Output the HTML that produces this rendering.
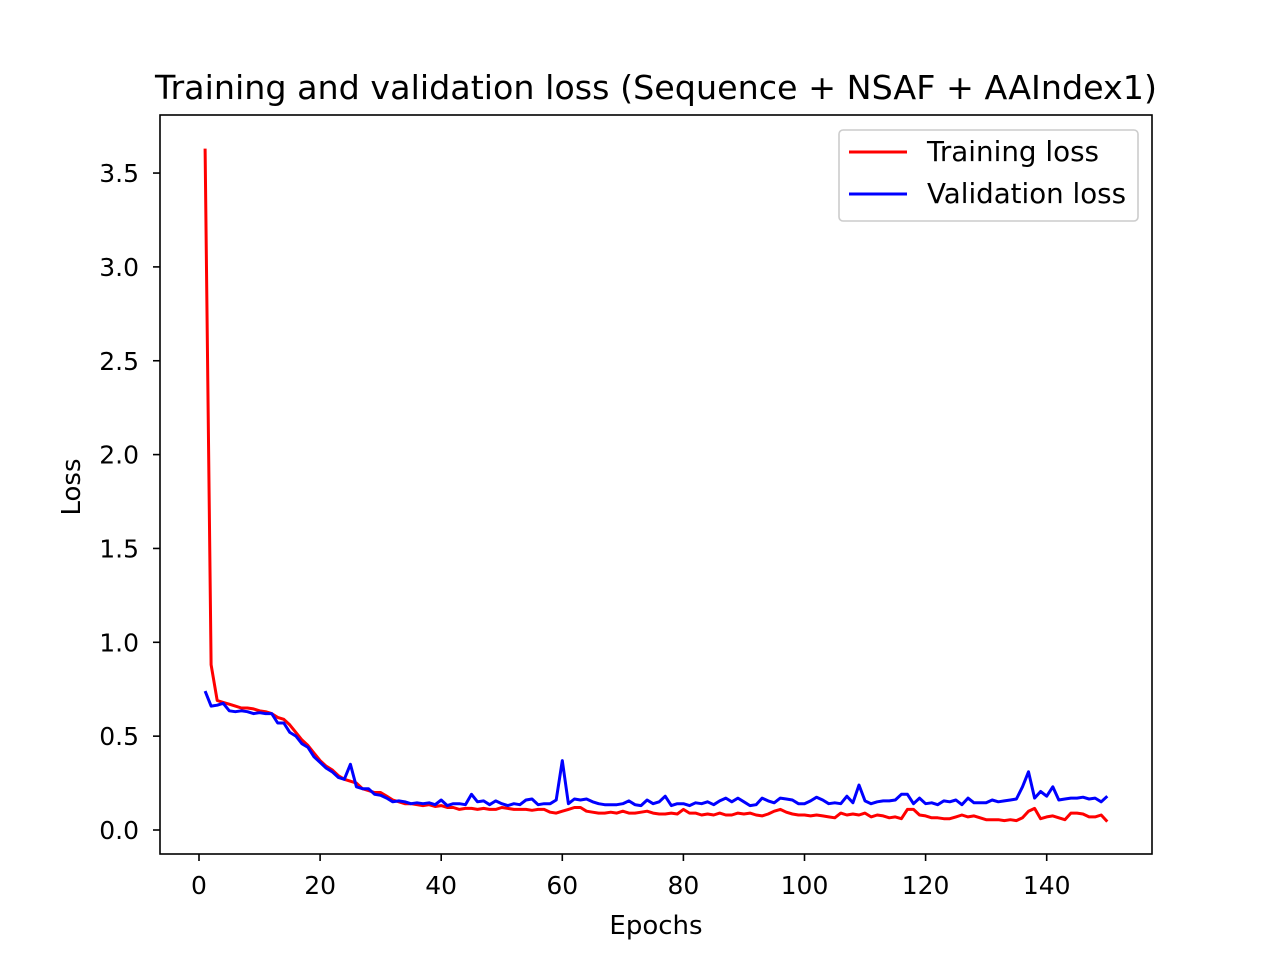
<!DOCTYPE html>
<html><head><meta charset="utf-8"><style>
body{margin:0;background:#fff;}
svg text{font-family:"DejaVu Sans","Liberation Sans",sans-serif;fill:#000;}
</style></head><body>
<svg id="chart" width="1280" height="960" xmlns="http://www.w3.org/2000/svg">
<rect width="1280" height="960" fill="#fff"/>
<text x="656" y="99" font-size="33" text-anchor="middle" textLength="1002" lengthAdjust="spacingAndGlyphs">Training and validation loss (Sequence + NSAF + AAIndex1)</text>
<g id="ticks"></g>
<g id="lines"></g>
<rect x="160" y="115" width="992" height="739" fill="none" stroke="#000" stroke-width="1.6"/>
<text x="656" y="934" font-size="26" text-anchor="middle">Epochs</text>
<text transform="translate(80,487) rotate(-90)" font-size="26" text-anchor="middle">Loss</text>
<g>
<rect x="839" y="130" width="299" height="91" rx="4" fill="#fff" stroke="#ccc" stroke-width="1.6"/>
<line x1="849" y1="152" x2="907" y2="152" stroke="#f00" stroke-width="3"/>
<text x="927" y="161" font-size="27.5" textLength="172" lengthAdjust="spacingAndGlyphs">Training loss</text>
<line x1="849" y1="194" x2="907" y2="194" stroke="#00f" stroke-width="3"/>
<text x="927" y="203" font-size="27.5" textLength="199" lengthAdjust="spacingAndGlyphs">Validation loss</text>
</g>
</svg>
<script>
const xTicks=[0,20,40,60,80,100,120,140];
const yTicks=[0,0.5,1.0,1.5,2.0,2.5,3.0,3.5];
const yTickLabels=["0.0","0.5","1.0","1.5","2.0","2.5","3.0","3.5"];
const trainLoss=[3.63,0.88,0.69,0.68,0.67,0.66,0.65,0.65,0.645,0.635,0.63,0.62,0.60,0.59,0.56,0.52,0.48,0.45,0.41,0.37,
0.34,0.32,0.29,0.27,0.26,0.25,0.22,0.21,0.2,0.2,0.18,0.16,0.15,0.14,0.14,0.135,0.13,0.135,0.125,0.13,
0.12,0.12,0.11,0.115,0.115,0.11,0.115,0.11,0.11,0.12,0.115,0.11,0.11,0.11,0.105,0.11,0.11,0.095,0.09,0.1,
0.11,0.12,0.12,0.1,0.095,0.09,0.09,0.095,0.09,0.1,0.09,0.09,0.095,0.1,0.09,0.085,0.085,0.09,0.085,0.11,
0.09,0.09,0.08,0.085,0.08,0.09,0.08,0.08,0.09,0.085,0.09,0.08,0.075,0.085,0.1,0.11,0.095,0.085,0.08,0.08,
0.075,0.08,0.075,0.07,0.065,0.09,0.08,0.085,0.08,0.09,0.07,0.08,0.075,0.065,0.07,0.06,0.11,0.11,0.08,0.075,
0.065,0.065,0.06,0.06,0.07,0.08,0.07,0.075,0.065,0.055,0.055,0.055,0.05,0.055,0.05,0.065,0.1,0.115,0.06,0.07,
0.075,0.065,0.055,0.09,0.09,0.085,0.07,0.07,0.08,0.045];
const valLoss=[0.74,0.66,0.665,0.675,0.635,0.63,0.635,0.63,0.62,0.625,0.62,0.62,0.57,0.57,0.52,0.5,0.46,0.44,0.39,0.36,
0.33,0.31,0.28,0.27,0.35,0.23,0.22,0.22,0.19,0.185,0.17,0.15,0.155,0.15,0.14,0.145,0.14,0.145,0.135,0.16,
0.13,0.14,0.14,0.135,0.19,0.15,0.155,0.135,0.155,0.14,0.13,0.14,0.135,0.16,0.165,0.135,0.14,0.14,0.16,0.37,
0.14,0.165,0.16,0.165,0.15,0.14,0.135,0.135,0.135,0.14,0.155,0.135,0.13,0.16,0.14,0.15,0.18,0.13,0.14,0.14,
0.13,0.145,0.14,0.15,0.135,0.155,0.17,0.15,0.17,0.15,0.13,0.135,0.17,0.155,0.145,0.17,0.165,0.16,0.14,0.14,
0.155,0.175,0.16,0.14,0.145,0.14,0.18,0.145,0.24,0.155,0.14,0.15,0.155,0.155,0.16,0.19,0.19,0.14,0.17,0.14,
0.145,0.135,0.155,0.15,0.16,0.135,0.17,0.145,0.145,0.145,0.16,0.15,0.155,0.16,0.165,0.23,0.31,0.17,0.205,0.18,
0.23,0.16,0.165,0.17,0.17,0.175,0.165,0.17,0.15,0.18];
const X=v=>199+v*6.055;
const Y=v=>830-v*187.7;
const NS="http://www.w3.org/2000/svg";
const tg=document.getElementById('ticks');
function mk(tag,attrs,parent){const e=document.createElementNS(NS,tag);for(const k in attrs)e.setAttribute(k,attrs[k]);parent.appendChild(e);return e;}
xTicks.forEach(t=>{
  const l=mk('line',{x1:X(t),x2:X(t),y1:854,y2:861,stroke:'#000','stroke-width':1.6},tg);
  
  
  const tx=mk('text',{x:X(t),y:894,'font-size':25,'text-anchor':'middle'},tg);tx.textContent=t;
  
  
});
yTicks.forEach((t,i)=>{
  const l=mk('line',{x1:153,x2:160,y1:Y(t),y2:Y(t),stroke:'#000','stroke-width':1.6},tg);
  
  
  const tx=mk('text',{x:139,y:Y(t)+9,'font-size':25,'text-anchor':'end'},tg);tx.textContent=yTickLabels[i];
  
  
});
const lg=document.getElementById('lines');
function line(arr,color,name){
  const d=arr.map((v,i)=>(i?'L':'M')+X(i+1).toFixed(1)+' '+Y(v).toFixed(1)).join(' ');
  const p=mk('path',{d:d,fill:'none',stroke:color,'stroke-width':3,'stroke-linejoin':'round'},lg);
  
  
}
line(trainLoss,'#f00','training-loss-line');
line(valLoss,'#00f','validation-loss-line');
</script>
</body></html>
